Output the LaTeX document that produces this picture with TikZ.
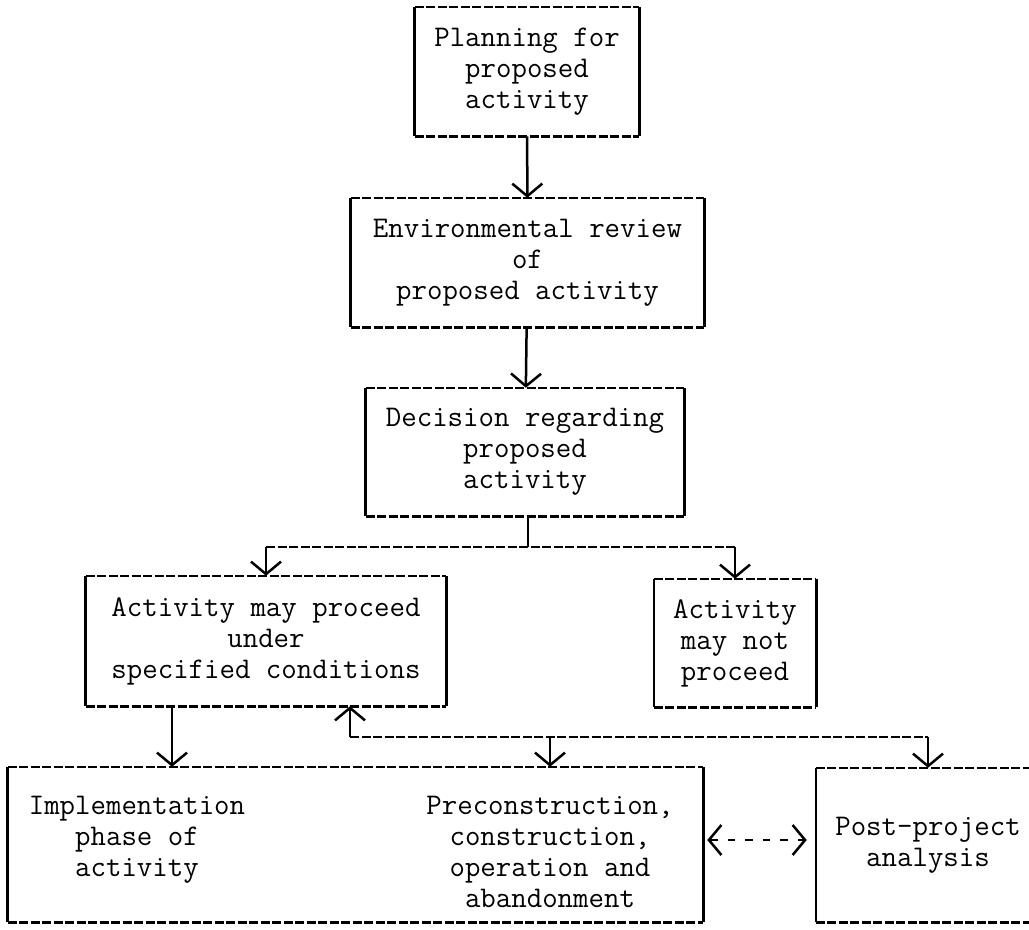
\documentclass[tikz,border=0pt]{standalone}
\usepackage{tikz}
\usetikzlibrary{arrows.meta,positioning,calc}

\tikzset{
  tdash/.style={dash pattern=on 3.6pt off 1.0pt},
  tbox/.style={inner sep=0pt, align=center,
    append after command={
      (\tikzlastnode.north west) edge[tdash] (\tikzlastnode.north east)
      (\tikzlastnode.south west) edge[tdash] (\tikzlastnode.south east)
      (\tikzlastnode.north west) edge (\tikzlastnode.south west)
      (\tikzlastnode.north east) edge (\tikzlastnode.south east)}},
  arr/.style={-{Straight Barb[length=5pt,width=12pt]}},
}

\begin{document}
\begin{tikzpicture}[x=0.4pt, y=-0.4pt, line width=1pt,
    every node/.style={font=\fontsize{12}{12.4}\selectfont\ttfamily}]
    \useasboundingbox (0,0) rectangle (1029,929);
    \fill[white] (0,0) rectangle (1029,929);
    \clip (0,0) rectangle (1029,929);

    % Main chain
    \node[tbox, minimum width=88.8pt, minimum height=50.8pt] (plan) at (527,71.5) {Planning for\\proposed\\activity};
    \node[tbox, minimum width=140.4pt, minimum height=50.8pt] (env) at (527.5,262.5) {Environmental review\\of\\proposed activity};
    \node[tbox, minimum width=126.4pt, minimum height=50.4pt] (dec) at (525,452) {Decision regarding\\proposed\\activity};

    % Decision outcomes
    \node[tbox, minimum width=143.2pt, minimum height=51.2pt] (proc) at (266,641) {Activity may proceed\\under\\specified conditions};
    \node[tbox, minimum width=64pt, minimum height=50.4pt] (notp) at (735,643) {Activity\\may not\\proceed};

    % Bottom row
    \node[tbox, minimum width=277.2pt, minimum height=61.2pt] (impl) at (355.5,844.5) {};
    \node[anchor=north, align=center] (phase) at (137,787) {Implementation\\phase of\\activity};
    \node[anchor=north, align=center] (stages) at (550,787) {Preconstruction,\\construction,\\operation and\\abandonment};
    \node[tbox, minimum width=88.8pt, minimum height=60.8pt] (post) at (928,845) {Post-project\\analysis};

    % Arrows
    \draw[arr] (plan) -- (env);
    \draw[arr] (env) -- (dec);

    \coordinate (split) at (528,547);
    \coordinate (loop) at (350,737);
    \draw (dec.south -| split) -- (split);
    \draw[tdash] (proc.north |- split) -- (notp.north |- split);
    \draw[arr] (proc.north |- split) -- (proc.north);
    \draw[arr] (notp.north |- split) -- (notp.north);

    \draw[arr] (proc.south -| 172,0) -- (impl.north -| 172,0);
    \draw[tdash] (loop) -- (post.north |- loop);
    \draw[arr] (loop) -- (proc.south -| loop);
    \draw[arr] (stages.north |- loop) -- (impl.north -| stages.north);
    \draw[arr] (post.north |- loop) -- (post.north);

    \draw[{Straight Barb[length=5pt,width=12pt]}-{Straight Barb[length=5pt,width=12pt]}, dash pattern=on 3pt off 4pt, shorten <=1.6pt, shorten >=3.6pt] (impl.east |- 0,840) -- (post.west |- 0,840);
\end{tikzpicture}
\end{document}
